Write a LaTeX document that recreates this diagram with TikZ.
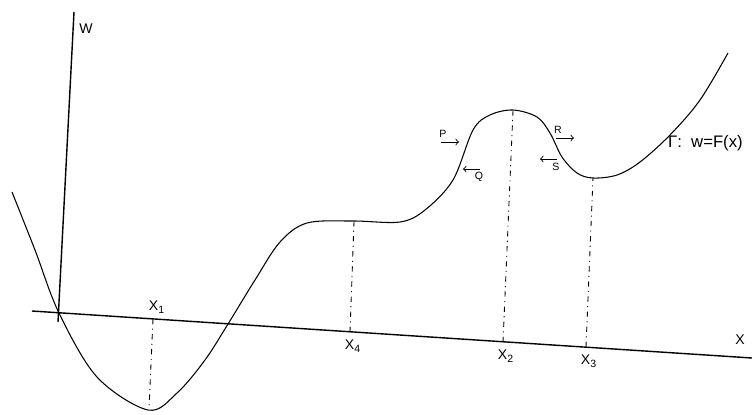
\documentclass[tikz,border=0pt]{standalone}
\usepackage{fontspec}
\setmainfont{Liberation Sans}
\begin{document}
\begin{tikzpicture}[x=0.02cm, y=-0.02cm,
  lbl/.style={font=\fontsize{8}{9}\selectfont, inner sep=1pt},
  tiny/.style={font=\fontsize{6}{7}\selectfont, inner sep=0.5pt},
  guide/.style={line width=0.5pt, dash pattern=on 3pt off 2.5pt on 0.6pt off 2.5pt}]
\useasboundingbox (0,0) rectangle (752,414);
% axes
\coordinate (o) at (59,313);
\coordinate (wtop) at (74,12);
\coordinate (wbot) at (58,322);
\coordinate (xleft) at (32,311);
\coordinate (xright) at (752,358);
\draw[line width=0.8pt] (wbot) -- (wtop);
\draw[line width=0.8pt] (xleft) -- (xright);
\node[lbl] at (86,29) (w) {W};
\node[lbl] at (740,340) (x) {X};
% the curve
\draw[line width=0.6pt] plot[smooth, tension=0.55] coordinates {
  (12,192) (35,250) (59,313) (97,377) (148,410) (177,393) (205,360)
  (228,324) (255,280) (280,242) (307,223) (353,221) (400,222) (425,210)
  (453,180) (473,130) (490,115) (513,110) (537,117) (550,133) (562,157)
  (577,173) (593,178) (617,175) (640,162) (670,135) (700,100) (728,53)};
\node[lbl, font=\fontsize{9.5}{11}\selectfont, anchor=west] at (666,143) (gamma) {Γ:~~w=F(x)};
% guide lines
\coordinate (a1) at (153,319);
\coordinate (c1) at (149,409);
\coordinate (a4) at (350,332);
\coordinate (c4) at (354,222);
\coordinate (a2) at (503,342);
\coordinate (c2) at (513,111);
\coordinate (a3) at (586,347);
\coordinate (c3) at (593,178);
\draw[guide] (a1) -- (c1);
\draw[guide] (a4) -- (c4);
\draw[guide] (a2) -- (c2);
\draw[guide] (a3) -- (c3);
\node[lbl] at (157,307) (x1) {X\textsubscript{1}};
\node[lbl] at (353,346) (x4) {X\textsubscript{4}};
\node[lbl] at (506,356) (x2) {X\textsubscript{2}};
\node[lbl] at (589,361) (x3) {X\textsubscript{3}};
% little arrows
\coordinate (p1) at (441,142);
\coordinate (p2) at (459,142);
\coordinate (q1) at (480,169);
\coordinate (q2) at (463,169);
\coordinate (r1) at (556,138);
\coordinate (r2) at (574,138);
\coordinate (s1) at (557,159);
\coordinate (s2) at (540,159);
\draw[->, line width=0.5pt] (p1) -- (p2);
\draw[->, line width=0.5pt] (q1) -- (q2);
\draw[->, line width=0.5pt] (r1) -- (r2);
\draw[->, line width=0.5pt] (s1) -- (s2);
\node[tiny] at (443,134) (p) {P};
\node[tiny] at (479,177) (q) {Q};
\node[tiny] at (558,130) (r) {R};
\node[tiny] at (556,167) (s) {S};
\end{tikzpicture}
\end{document}
